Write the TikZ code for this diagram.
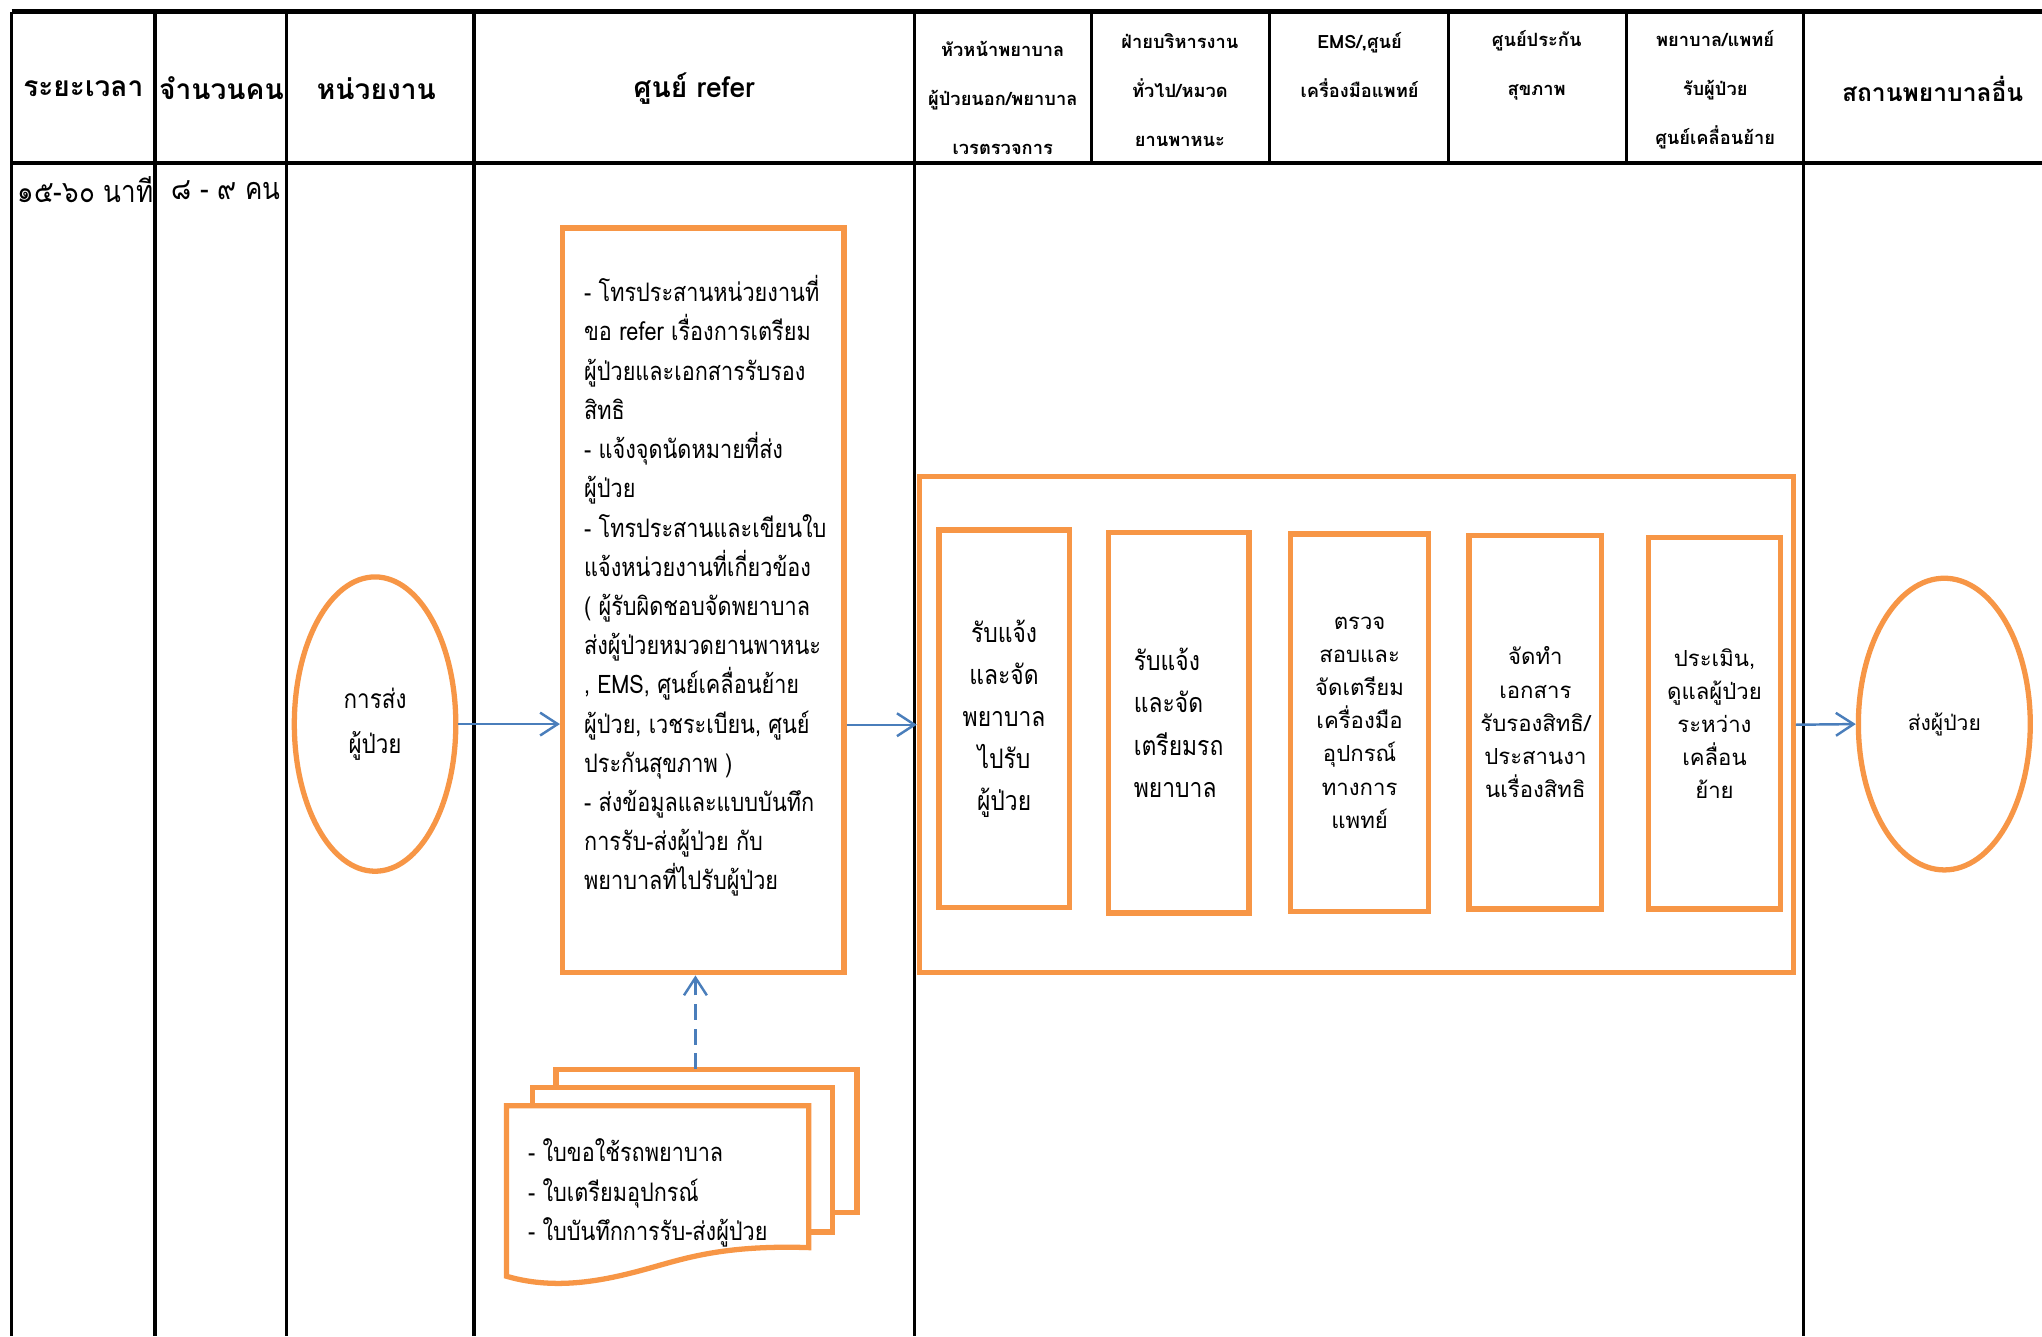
\documentclass[tikz,border=0pt]{standalone}
\usepackage{fontspec}
\usetikzlibrary{arrows.meta, shapes.geometric}
\newfontfamily\thaifont[Script=Thai]{Loma}
\newfontfamily\thainarrow[Script=Thai, FakeStretch=0.85]{Loma}
\definecolor{boxorange}{HTML}{F79646}
\definecolor{flowblue}{HTML}{4A7EBB}
\def\px{0.013023cm}

\begin{document}
\begin{tikzpicture}[x=0.013023cm, y=-0.013023cm,
    grid/.style={line width=0.9pt},
    obox/.style={draw=boxorange, line width=1.5pt, fill=white, inner sep=0pt},
    oval/.style={ellipse, draw=boxorange, line width=1.5pt, fill=white, inner sep=0pt, align=center},
    flow/.style={draw=flowblue, line width=0.7pt, -{Straight Barb[length=5pt, width=6.5pt]}},
    headbig/.style={font=\thaifont\bfseries\fontsize{8}{10}\selectfont},
    headsmall/.style={font=\thaifont\bfseries\fontsize{5.2}{14}\selectfont, align=center},
    rowtxt/.style={font=\thainarrow\fontsize{8.7}{11}\selectfont, anchor=west, inner sep=0pt},
    bodytxt/.style={font=\thainarrow\fontsize{7.25}{11.15}\selectfont, align=left, inner sep=0pt},
    stepbig/.style={font=\thainarrow\fontsize{7.65}{12}\selectfont},
    stepsmall/.style={font=\thaifont\fontsize{6.3}{9.4}\selectfont, align=center}]
  \useasboundingbox (0,0) rectangle (1568,1026);

  % ตาราง
  \draw[grid, line width=1.3pt] (9,9) -- (1568,9);
  \draw[grid, line width=1.2pt] (9,125) -- (1568,125);
  \foreach \x in {9,119,220,364,702,1385}
    \draw[grid] (\x,9) -- (\x,1026);
  \foreach \x in {838,975,1112,1249}
    \draw[grid] (\x,9) -- (\x,125);

  % หัวตาราง
  \node[headbig] (h1) at (64,68) {ระยะเวลา};
  \node[headbig] (h2) at (170,68) {จำนวนคน};
  \node[headbig] (h3) at (289,68) {หน่วยงาน};
  \node[headbig] (h4) at (533,68) {ศูนย์ refer};
  \node[headsmall] (h5) at (770,75) {หัวหน้าพยาบาล\\ผู้ป่วยนอก/พยาบาล\\เวรตรวจการ};
  \node[headsmall] (h6) at (906,69) {ฝ่ายบริหารงาน\\ทั่วไป/หมวด\\ยานพาหนะ};
  \node[headsmall] (h7) at (1044,50) {EMS/,ศูนย์\\เครื่องมือแพทย์};
  \node[headsmall] (h8) at (1180,50) {ศูนย์ประกัน\\สุขภาพ};
  \node[headsmall] (h9) at (1317,69) {พยาบาล/แพทย์\\รับผู้ป่วย\\ศูนย์เคลื่อนย้าย};
  \node[headbig, font=\thaifont\bfseries\fontsize{7}{10}\selectfont] (h10) at (1484,68) {สถานพยาบาลอื่น};

  % แถวเวลา
  \node[rowtxt] (time) at (13,146) {๑๕-๖๐ นาที};
  \node[rowtxt] (people) at (131,146) {๘ - ๙ คน};

  % ขั้นตอน
  \node[oval, minimum width=124*\px, minimum height=226*\px,
        font=\thainarrow\fontsize{7.5}{12.6}\selectfont] (send) at (288,556) {การส่ง\\ผู้ป่วย};

  \node[obox, minimum width=216*\px, minimum height=572*\px] (refer) at (540,461) {};
  \node[bodytxt, anchor=west] (refertxt) at (448,450) {%
    - โทรประสานหน่วยงานที่\\
    ขอ refer เรื่องการเตรียม\\
    ผู้ป่วยและเอกสารรับรอง\\
    สิทธิ\\
    - แจ้งจุดนัดหมายที่ส่ง\\
    ผู้ป่วย\\
    - โทรประสานและเขียนใบ\\
    แจ้งหน่วยงานที่เกี่ยวข้อง\\
    ( ผู้รับผิดชอบจัดพยาบาล\\
    ส่งผู้ป่วยหมวดยานพาหนะ\\
    , EMS, ศูนย์เคลื่อนย้าย\\
    ผู้ป่วย, เวชระเบียน, ศูนย์\\
    ประกันสุขภาพ )\\
    - ส่งข้อมูลและแบบบันทึก\\
    การรับ-ส่งผู้ป่วย กับ\\
    พยาบาลที่ไปรับผู้ป่วย};

  % เอกสาร
  \filldraw[draw=boxorange, fill=white, line width=1.5pt]
    (427,821) -- (658,821) -- (658,931) -- (427,931) -- cycle;
  \filldraw[draw=boxorange, fill=white, line width=1.5pt]
    (409,835) -- (639,835) -- (639,946) -- (409,946) -- cycle;
  \filldraw[draw=boxorange, fill=white, line width=1.5pt]
    (389,849) -- (621,849) -- (621,958)
    .. controls (560,956) and (530,965) .. (505,972)
    .. controls (470,982) and (430,992) .. (389,980) -- cycle;
  \node[bodytxt, anchor=west] (docs) at (405,916) {%
    - ใบขอใช้รถพยาบาล\\
    - ใบเตรียมอุปกรณ์\\
    - ใบบันทึกการรับ-ส่งผู้ป่วย};
  \coordinate (stacktop) at (534,821);

  % กลุ่มงาน
  \node[obox, minimum width=671*\px, minimum height=381*\px] (group) at (1041.5,556.5) {};
  \node[obox, stepbig, align=center, minimum width=100*\px, minimum height=290*\px]
    (s1) at (771,552) {รับแจ้ง\\และจัด\\พยาบาล\\ไปรับ\\ผู้ป่วย};
  \node[obox, stepbig, align=left, minimum width=108*\px, minimum height=292*\px]
    (s2) at (905,555) {รับแจ้ง\\และจัด\\เตรียมรถ\\พยาบาล};
  \node[obox, stepsmall, minimum width=106*\px, minimum height=290*\px]
    (s3) at (1044,555) {ตรวจ\\สอบและ\\จัดเตรียม\\เครื่องมือ\\อุปกรณ์\\ทางการ\\แพทย์};
  \node[obox, stepsmall, minimum width=102*\px, minimum height=287*\px]
    (s4) at (1179,554.5) {จัดทำ\\เอกสาร\\รับรองสิทธิ/\\ประสานงา\\นเรื่องสิทธิ};
  \node[obox, stepsmall, minimum width=101*\px, minimum height=285*\px]
    (s5) at (1316.5,555.5) {ประเมิน,\\ดูแลผู้ป่วย\\ระหว่าง\\เคลื่อน\\ย้าย};

  \node[oval, minimum width=132*\px, minimum height=224*\px,
        font=\thaifont\fontsize{6}{9}\selectfont] (dest) at (1493,556) {ส่งผู้ป่วย};

  % ลูกศร
  \draw[flow] (send.east) -- (send.east -| refer.west);
  \draw[flow] (refer.east |- group.west) -- (group.west);
  \draw[flow] (group.east) -- (dest.west);
  \draw[flow, dash pattern=on 4.5pt off 2.5pt] (stacktop) -- (stacktop |- refer.south);
\end{tikzpicture}
\end{document}
